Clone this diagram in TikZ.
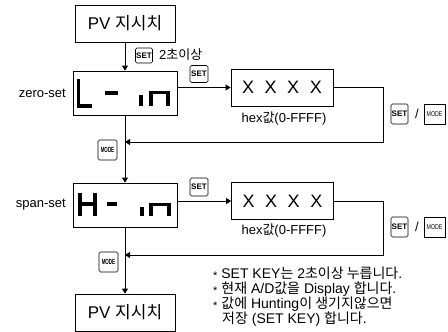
\documentclass[tikz,border=0pt]{standalone}
\usepackage{fontspec}
\usepackage{graphicx}
\setmainfont{Liberation Sans}
\newfontfamily\krfont{Noto Sans CJK KR}
\newcommand{\K}[1]{{\krfont #1}}
\newcommand{\st}{\raisebox{-0.5pt}{\fontsize{11}{11}\selectfont *}}
\usetikzlibrary{arrows.meta}
\begin{document}
\begin{tikzpicture}[x=1pt,y=-1pt,
 box/.style={draw,line width=0.8pt,inner sep=0pt},
 keybtn/.style={draw,line width=0.7pt,rounded corners=1.5pt,inner sep=0pt,font=\fontsize{8}{8}\selectfont\bfseries},
 modebtn/.style={draw,line width=0.7pt,rounded corners=1.5pt,inner sep=0pt,font=\fontsize{7.5}{7.5}\selectfont\bfseries},
 thinmode/.style={draw,line width=0.6pt,inner sep=0pt,minimum width=21,minimum height=20,font=\fontsize{7}{7}\selectfont},
 conn/.style={line width=0.8pt},
 arr/.style={conn,-{Triangle[length=5pt,width=6pt]}},
 seg/.style={line width=3.2pt},
 big/.style={font=\fontsize{17}{17}\selectfont},
 lab/.style={font=\fontsize{13}{14}\selectfont}]
\useasboundingbox (0,0) rectangle (448,332);
% main boxes
\node[box,big,minimum width=100,minimum height=37] (pv1) at (125,23.5) {PV \K{지시치}};
\node[box,minimum width=104,minimum height=44] (lin) at (125,93) {};
\node[box,minimum width=104,minimum height=44] (hin) at (125,205) {};
\node[box,minimum width=102,minimum height=37,font=\fontsize{18}{18}\selectfont] (hex1) at (282,87.5) {X\hspace{10.5pt}X\hspace{10.5pt}X\hspace{10.5pt}X};
\node[box,minimum width=102,minimum height=37,font=\fontsize{18}{18}\selectfont] (hex2) at (282.5,201) {X\hspace{10.5pt}X\hspace{10.5pt}X\hspace{10.5pt}X};
\node[box,big,minimum width=100,minimum height=37] (pv2) at (125,312.5) {PV \K{지시치}};
% labels
\node[lab,anchor=east,inner sep=0pt] (zs) at (66,93) {zero-set};
\node[lab,anchor=east,inner sep=0pt] (ss) at (66,205) {span-set};
\node[lab] (h1) at (284,118) {hex\K{값}(0-FFFF)};
\node[lab] (h2) at (284,230) {hex\K{값}(0-FFFF)};
\node[lab,anchor=west,inner sep=0pt] (two) at (159,55) {2\K{초이상}};
% keys
\node[keybtn,minimum width=17,minimum height=15] (k1) at (144,55.5) {SET};
\node[keybtn,minimum width=18,minimum height=17] (k2) at (199,74) {SET};
\node[keybtn,minimum width=18,minimum height=18] (k3) at (199,187) {SET};
\node[modebtn,minimum width=19,minimum height=20] (m1) at (107.5,150) {\scalebox{0.6}[1]{MODE}};
\node[modebtn,minimum width=19,minimum height=20] (m2) at (108.5,262) {\scalebox{0.6}[1]{MODE}};
\node[keybtn,minimum width=17,minimum height=20] (rk1) at (399.5,114) {SET};
\node[lab] (sl1) at (417,114) {/};
\node[thinmode] (rm1) at (434.5,114) {\scalebox{0.75}[1]{MODE}};
\node[keybtn,minimum width=17,minimum height=20] (rk2) at (399.5,227) {SET};
\node[lab] (sl2) at (417,227) {/};
\node[thinmode] (rm2) at (434.5,227) {\scalebox{0.75}[1]{MODE}};
% coordinates
\coordinate (r1) at (383,142);
\coordinate (r2) at (383,255);
% connectors
\draw[arr] (pv1.south) -- (lin.north);
\draw[arr] (lin.east |- hex1.west) -- (hex1.west);
\draw[arr] (hex1.east) -| (r1) -- (lin.south |- r1);
\draw[arr] (lin.south) -- (hin.north);
\draw[arr] (hin.east |- hex2.west) -- (hex2.west);
\draw[arr] (hex2.east) -| (r2) -- (hin.south |- r2);
\draw[arr] (hin.south) -- (pv2.north);
% seven segment L - in
\draw[seg] (78.5,79) -- (78.5,106) -- (92,106);
\draw[seg] (105,93) -- (118,93);
\draw[seg] (141,95) -- (141,106);
\draw[seg] (151,106) -- (151,92.5) -- (168,92.5) -- (168,106);
% seven segment H - in
\draw[seg] (80,193) -- (80,216);
\draw[seg] (95,193) -- (95,216);
\draw[seg] (80,204) -- (95,204);
\draw[seg] (107,204) -- (117,204);
\draw[seg] (142,207) -- (142,216);
\draw[seg] (151,216) -- (151,204.5) -- (169,204.5) -- (169,216);
% notes
\node[anchor=north west,align=left,inner sep=0pt,font=\fontsize{14}{15}\selectfont] (notes) at (213,267)
{\st{} SET KEY\K{는} 2\K{초이상 누릅니다}.\\
\st{} \K{현재} A/D\K{값을} Display \K{합니다}.\\
\st{} \K{값에} Hunting\K{이 생기지않으면}\\
\hspace*{9pt}\K{저장} (SET KEY) \K{합니다}.};
\end{tikzpicture}
\end{document}
